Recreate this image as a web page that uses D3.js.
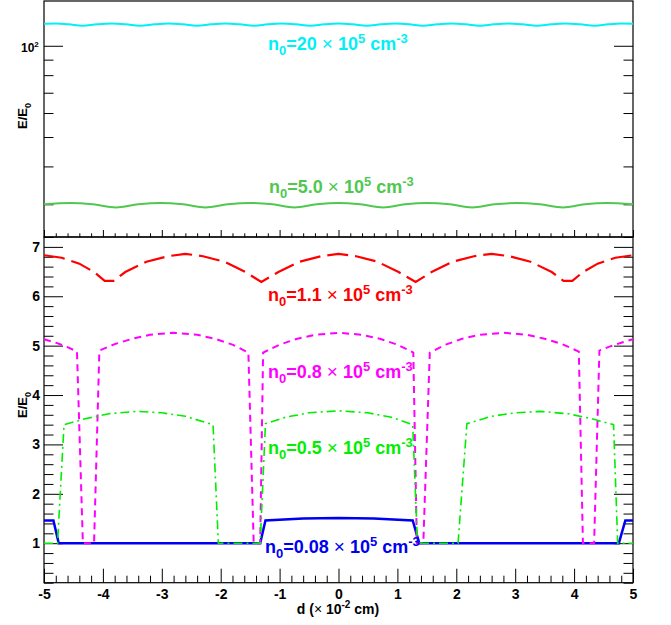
<!DOCTYPE html>
<html>
<head>
<meta charset="utf-8">
<script src="https://cdn.jsdelivr.net/npm/d3@7"></script>
<style>
  body { margin: 0; background: #fff; }
  text { font-family: "Liberation Sans", Arial, Helvetica, sans-serif; font-weight: bold; }
</style>
</head>
<body>
<script>
// ---- data ----
// x ticks
const xMajor = [-5, -4, -3, -2, -1, 0, 1, 2, 3, 4, 5];
const yMajorBottom = [1, 2, 3, 4, 5, 6, 7];
const yMajorTop = [100];
const yMinorTop = [30, 40, 50, 60, 70, 80, 90];

// density labels (x 10^5 cm^-3)
const densityLabels = ["20", "5.0", "1.1", "0.8", "0.5", "0.08"];

// top panel: n0 = 20
const cyanD = [-5, -4.8, -4.58, -4.35, -4.1, -3.85, -3.61, -3.37, -3.12, -2.88, -2.64, -2.40, -2.16, -1.92, -1.68, -1.43, -1.2, -0.96, -0.72, -0.48, -0.24, 0,
  0.24, 0.48, 0.72, 0.96, 1.2, 1.43, 1.68, 1.92, 2.16, 2.40, 2.64, 2.88, 3.12, 3.37, 3.61, 3.85, 4.1, 4.35, 4.58, 4.8, 5];
const cyanV = [118.2, 118.4, 117.7, 116.4, 117.7, 118.4, 117.7, 116.4, 117.7, 118.4, 117.7, 116.4, 117.7, 118.4, 117.7, 116.4, 117.7, 118.4, 117.7, 116.4, 117.7, 118.4,
  117.7, 116.4, 117.7, 118.4, 117.7, 116.4, 117.7, 118.4, 117.7, 116.4, 117.7, 118.4, 117.7, 116.4, 117.7, 118.4, 117.7, 116.4, 117.7, 118.4, 118.2];

// top panel: n0 = 5.0
const lgreenD = [-5, -4.55, -4.17, -3.78, -3.40, -3.02, -2.64, -2.26, -1.88, -1.50, -1.12, -0.75, -0.37, 0,
  0.37, 0.76, 1.13, 1.50, 1.89, 2.27, 2.65, 3.02, 3.42, 3.81, 4.18, 4.55, 5];
const lgreenV = [30.0, 30.3, 30.0, 29.3, 30.0, 30.3, 30.0, 29.3, 30.0, 30.3, 30.0, 29.3, 30.0, 30.3,
  30.0, 29.3, 30.0, 30.3, 30.0, 29.3, 30.0, 30.3, 30.0, 29.3, 30.0, 30.3, 30.0];

// bottom panel: n0 = 1.1
const redD = [-5, -4.7, -4.4, -4.15, -3.97, -3.82, -3.62, -3.26, -2.9, -2.6, -2.3, -1.94, -1.58, -1.31, -1.02, -0.66, -0.3, 0,
  0.3, 0.66, 1.02, 1.31, 1.58, 1.94, 2.3, 2.6, 2.9, 3.26, 3.62, 3.82, 3.97, 4.15, 4.4, 4.7, 5];
const redV = [6.83, 6.78, 6.66, 6.49, 6.31, 6.31, 6.49, 6.70, 6.81, 6.86, 6.81, 6.70, 6.49, 6.29, 6.49, 6.70, 6.81, 6.86,
  6.81, 6.70, 6.49, 6.29, 6.49, 6.70, 6.81, 6.86, 6.81, 6.70, 6.49, 6.31, 6.31, 6.49, 6.66, 6.78, 6.83];

// bottom panel: n0 = 0.8
const magD = [-5, -4.8, -4.6, -4.44, -4.34, -4.15, -4.06, -3.8, -3.5, -3.2, -2.8, -2.4, -2.1, -1.8, -1.53, -1.44, -1.33, -1.28,
  -1.0, -0.7, -0.4, 0, 0.4, 0.7, 1.0, 1.27, 1.33, 1.44, 1.55, 1.82, 2.1, 2.4, 2.8, 3.2, 3.5, 3.8, 4.08, 4.15, 4.34, 4.43, 4.6, 4.8, 5];
const magV = [5.13, 5.06, 4.97, 4.88, 1.0, 1.0, 4.90, 5.03, 5.14, 5.22, 5.26, 5.22, 5.14, 5.02, 4.86, 1.0, 1.0, 4.86,
  5.02, 5.14, 5.22, 5.26, 5.22, 5.14, 5.02, 4.86, 1.0, 1.0, 4.86, 5.02, 5.14, 5.22, 5.26, 5.22, 5.14, 5.03, 4.88, 1.0, 1.0, 4.90, 4.98, 5.06, 5.13];

// bottom panel: n0 = 0.5
const greenD = [-5, -4.77, -4.66, -4.3, -3.9, -3.43, -3.0, -2.6, -2.13, -2.04, -1.33, -1.24, -0.9, -0.5, 0,
  0.5, 0.9, 1.26, 1.34, 2.03, 2.18, 2.6, 3.0, 3.43, 3.9, 4.3, 4.67, 4.74, 5];
const greenV = [1.0, 1.0, 3.40, 3.52, 3.62, 3.67, 3.64, 3.57, 3.40, 1.0, 1.0, 3.42, 3.55, 3.64, 3.68,
  3.64, 3.55, 3.40, 1.0, 1.0, 3.42, 3.57, 3.64, 3.67, 3.62, 3.52, 3.40, 1.0, 1.0];

// bottom panel: n0 = 0.08
const blueD = [-5, -4.84, -4.75, -1.33, -1.24, -0.6, 0, 0.6, 1.26, 1.37, 4.76, 4.87, 5];
const blueV = [1.46, 1.46, 1.0, 1.0, 1.46, 1.50, 1.51, 1.50, 1.46, 1.0, 1.0, 1.46, 1.46];

// ---- layout ----
const width = 671;
const height = 625;
const left = 44, right = 633;
const topY0 = 1, topY1 = 237, botY1 = 582.7;

const svg = d3.select("body").append("svg")
    .attr("width", width)
    .attr("height", height);

const x = d3.scaleLinear().domain([-5, 5]).range([left, right]);
const yTop = d3.scaleLog().domain([23.4, 140.5]).range([topY1, topY0]);
const yBot = d3.scaleLinear().domain([0.2, 7.2]).range([botY1, topY1]);

const xMinor = d3.range(-50, 51, 2).map(v => v / 10).filter(v => !xMajor.includes(v));
const yMinorBottom = d3.range(2, 73, 2).map(v => v / 10).filter(v => !yMajorBottom.includes(v));

// helper: strip domain line, style ticks
function clean(g) {
    g.select(".domain").remove();
    g.selectAll(".tick line").attr("stroke", "#000").attr("stroke-width", 1);
}

// ---- top panel axes ----
svg.append("g").attr("transform", `translate(0,${topY1})`)
    .call(d3.axisBottom(x).tickValues(xMajor).tickSize(-7).tickFormat(""))
    .call(clean);
svg.append("g").attr("transform", `translate(0,${topY1})`)
    .call(d3.axisBottom(x).tickValues(xMinor).tickSize(-3.7).tickFormat(""))
    .call(clean);
svg.append("g").attr("transform", `translate(${left},0)`)
    .call(d3.axisLeft(yTop).tickValues(yMajorTop).tickSize(-19).tickFormat(""))
    .call(clean);
svg.append("g").attr("transform", `translate(${left},0)`)
    .call(d3.axisLeft(yTop).tickValues(yMinorTop).tickSize(-9.5).tickFormat(""))
    .call(clean);
svg.append("g").attr("transform", `translate(${right},0)`)
    .call(d3.axisRight(yTop).tickValues(yMajorTop).tickSize(-19).tickFormat(""))
    .call(clean);
svg.append("g").attr("transform", `translate(${right},0)`)
    .call(d3.axisRight(yTop).tickValues(yMinorTop).tickSize(-9.5).tickFormat(""))
    .call(clean);

// 10^2 label
const lab100 = svg.append("text")
    .attr("x", 21).attr("y", yTop(100) + 6)
    .style("font-size", "12px");
lab100.append("tspan").text("10");
lab100.append("tspan").attr("dy", -5).style("font-size", "8px").text("2");

// ---- bottom panel axes ----
svg.append("g").attr("transform", `translate(0,${botY1})`)
    .call(d3.axisBottom(x).tickValues(xMajor).tickSize(-14).tickPadding(6).tickFormat(d => String(d)))
    .call(clean)
    .call(g => g.selectAll("text").style("font-size", "14px").attr("fill", "#000"));
svg.append("g").attr("transform", `translate(0,${botY1})`)
    .call(d3.axisBottom(x).tickValues(xMinor).tickSize(-7).tickFormat(""))
    .call(clean);
svg.append("g").attr("transform", `translate(${left},0)`)
    .call(d3.axisLeft(yBot).tickValues(yMajorBottom).tickSize(-19).tickPadding(4).tickFormat(d => String(d)))
    .call(clean)
    .call(g => g.selectAll("text").style("font-size", "14px").attr("fill", "#000"));
svg.append("g").attr("transform", `translate(${left},0)`)
    .call(d3.axisLeft(yBot).tickValues(yMinorBottom).tickSize(-9.5).tickFormat(""))
    .call(clean);
svg.append("g").attr("transform", `translate(${right},0)`)
    .call(d3.axisRight(yBot).tickValues(yMajorBottom).tickSize(-19).tickFormat(""))
    .call(clean);
svg.append("g").attr("transform", `translate(${right},0)`)
    .call(d3.axisRight(yBot).tickValues(yMinorBottom).tickSize(-9.5).tickFormat(""))
    .call(clean);

// frames
svg.append("rect").attr("x", left).attr("y", topY0).attr("width", right - left).attr("height", topY1 - topY0)
    .attr("fill", "none").attr("stroke", "#000").attr("stroke-width", 1.2);
svg.append("rect").attr("x", left).attr("y", topY1).attr("width", right - left).attr("height", botY1 - topY1)
    .attr("fill", "none").attr("stroke", "#000").attr("stroke-width", 1.2);

// ---- curves ----
function drawSeries(ds, vs, yScale, color, w, dash, curve) {
    const pts = ds.map((d, i) => [d, vs[i]]);
    svg.append("path")
        .datum(pts)
        .attr("fill", "none")
        .attr("stroke", color)
        .attr("stroke-width", w)
        .attr("stroke-dasharray", dash)
        .attr("d", d3.line().curve(curve || d3.curveLinear).x(p => x(p[0])).y(p => yScale(p[1])));
}

drawSeries(cyanD, cyanV, yTop, "#00f0f5", 2, null, d3.curveMonotoneX);
drawSeries(lgreenD, lgreenV, yTop, "#50c850", 2, null, d3.curveMonotoneX);

drawSeries(blueD, blueV, yBot, "#0000f0", 2.5, null);
drawSeries(redD, redV, yBot, "#ff0000", 2.2, "21,7");
drawSeries(magD, magV, yBot, "#ff00ff", 2, "7,5");
drawSeries(greenD, greenV, yBot, "#00ee00", 1.6, "9,4,2,4");

// ---- n0 labels ----
function densityLabel(xp, yp, value, color) {
    const t = svg.append("text")
        .attr("x", xp).attr("y", yp)
        .attr("fill", color)
        .style("font-size", "18px");
    t.append("tspan").text("n");
    t.append("tspan").attr("dy", 5).style("font-size", "13px").text("0");
    t.append("tspan").attr("dy", -5).text("=" + value + " ");
    t.append("tspan").style("font-weight", "normal").style("font-size", "19px").text("\u00d7");
    t.append("tspan").text(" 10");
    t.append("tspan").attr("dy", -7).style("font-size", "13px").text("5");
    t.append("tspan").attr("dy", 7).text(" cm");
    t.append("tspan").attr("dy", -7).style("font-size", "13px").text("-3");
}

densityLabel(268, 50, densityLabels[0], "#00f0f5");
densityLabel(269, 193, densityLabels[1], "#50c850");
densityLabel(268, 301, densityLabels[2], "#ff0000");
densityLabel(268, 378, densityLabels[3], "#ff00ff");
densityLabel(268, 454, densityLabels[4], "#00ee00");
densityLabel(265, 553, densityLabels[5], "#0000f0");

// ---- axis titles ----
function yTitle(cy) {
    const t = svg.append("text")
        .attr("transform", `translate(27,${cy}) rotate(-90)`)
        .attr("text-anchor", "middle")
        .style("font-size", "13px");
    t.append("tspan").text("E/E");
    t.append("tspan").attr("dy", 4).style("font-size", "9px").text("0");
}
yTitle(116);
yTitle(405);

const xt = svg.append("text")
    .attr("x", 338).attr("y", 614)
    .attr("text-anchor", "middle")
    .style("font-size", "14px");
xt.append("tspan").text("d (");
xt.append("tspan").style("font-weight", "normal").text("\u00d7");
xt.append("tspan").text(" 10");
xt.append("tspan").attr("dy", -6).style("font-size", "10px").text("-2");
xt.append("tspan").attr("dy", 6).text(" cm)");
</script>
</body>
</html>
